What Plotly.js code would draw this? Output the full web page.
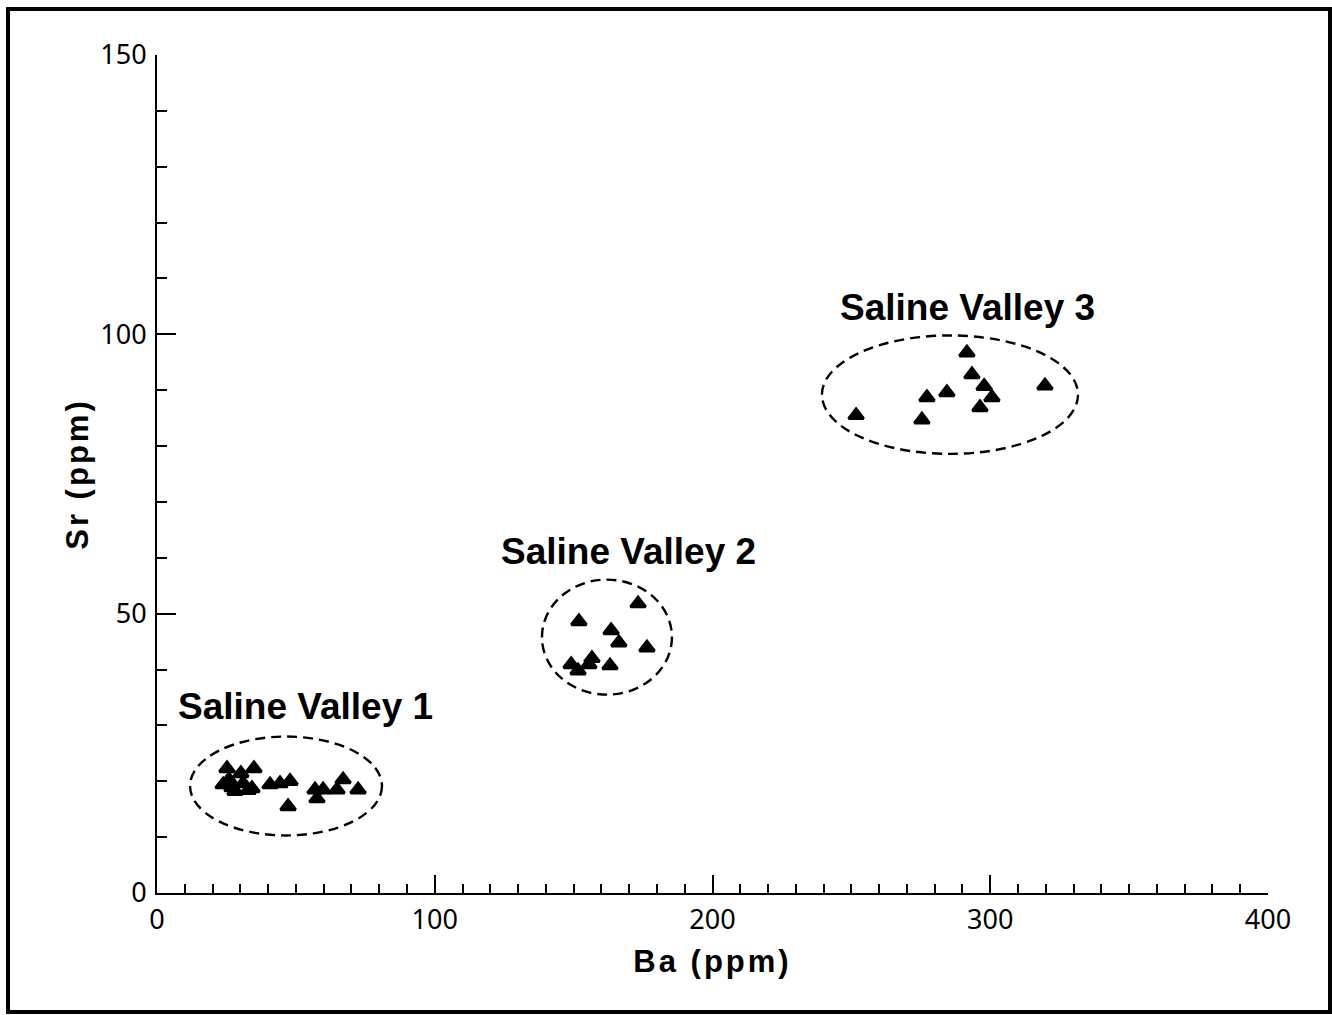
<!DOCTYPE html>
<html>
<head>
<meta charset="utf-8">
<script src="https://cdn.plot.ly/plotly-3.0.1.min.js"></script>
<style>
  html, body { margin: 0; padding: 0; background: #fff; }
  #chart { width: 1332px; height: 1015px; }
  .xtitle, .ytitle { letter-spacing: 3px; }
</style>
</head>
<body>
<div id="chart"></div>
<script>
// ---- Data ----
const groupNames = ["Saline Valley 1", "Saline Valley 2", "Saline Valley 3"];

const ba1 = [25.2, 34.9, 30.2, 25.9, 23.8, 28.1, 31.0, 34.2, 27.0, 32.8, 40.7, 44.3, 47.9, 47.2, 56.9, 59.8, 57.6, 67.0, 64.8, 72.4];
const sr1 = [22.3, 22.3, 21.4, 20.3, 19.4, 18.2, 19.6, 18.7, 18.9, 18.4, 19.4, 19.6, 20.0, 15.5, 18.5, 18.5, 16.9, 20.3, 18.5, 18.5];

const ba2 = [173.2, 151.9, 163.5, 166.3, 176.4, 156.6, 149.1, 151.6, 155.5, 163.1];
const sr2 = [51.8, 48.6, 47.0, 44.8, 43.9, 42.0, 40.9, 39.8, 40.9, 40.7];

const ba3 = [291.6, 293.4, 297.8, 300.6, 296.3, 319.7, 284.4, 277.2, 275.4, 251.7];
const sr3 = [96.7, 92.8, 90.7, 88.7, 86.9, 90.8, 89.6, 88.7, 84.7, 85.5];

// Dashed ellipse extents around each group [min, max] in data units
const ellipseBa = [[11.9, 81.0], [138.6, 185.4], [239.4, 331.6]];
const ellipseSr = [[10.3, 28.0], [35.5, 56.1], [78.6, 99.8]];

// Group label anchor positions in data units
const labelBa = [53.3, 169.6, 291.8];
const labelSr = [33.4, 61.2, 104.8];

const xTickVals = [0, 100, 200, 300, 400];
const yTickVals = [0, 50, 100, 150];

// ---- Chart ----
const markerStyle = { symbol: "triangle-up", size: 13, color: "#000", line: { color: "#000", width: 3 } };

const traces = [[ba1, sr1], [ba2, sr2], [ba3, sr3]].map((d, i) => ({
  type: "scatter",
  mode: "markers",
  name: groupNames[i],
  x: d[0],
  y: d[1],
  marker: markerStyle,
  hoverinfo: "skip"
}));

const tickFont = { family: "'Noto Sans', 'DejaVu Sans Condensed', sans-serif", size: 27, color: "#000" };
const titleFont = { family: "'Liberation Sans', Arial, sans-serif", size: 31, color: "#000", weight: "bold" };

const shapes = ellipseBa.map((bx, i) => ({
  type: "circle",
  xref: "x", yref: "y",
  x0: bx[0], x1: bx[1],
  y0: ellipseSr[i][0], y1: ellipseSr[i][1],
  line: { color: "#000", width: 2.4, dash: "10px,6px" }
}));

// outer frame
shapes.push({
  type: "rect", xref: "paper", yref: "paper",
  x0: -0.1341, x1: 1.0558, y0: -0.1420, y1: 1.0549,
  line: { color: "#000", width: 4 }, fillcolor: "rgba(0,0,0,0)"
});

const annotations = groupNames.map((t, i) => ({
  text: t,
  x: labelBa[i], y: labelSr[i],
  xref: "x", yref: "y",
  showarrow: false,
  xanchor: "center", yanchor: "middle",
  font: { family: "'Liberation Sans', Arial, sans-serif", size: 37, color: "#000", weight: "bold" }
}));

const layout = {
  width: 1332,
  height: 1015,
  margin: { l: 157, r: 64, t: 55, b: 122 },
  paper_bgcolor: "#fff",
  plot_bgcolor: "#fff",
  showlegend: false,
  xaxis: {
    range: [0, 400],
    tickvals: xTickVals,
    ticktext: xTickVals.map(String),
    ticks: "inside",
    ticklen: 18,
    tickwidth: 2,
    tickcolor: "#000",
    minor: { dtick: 10, tick0: 0, ticks: "inside", ticklen: 9, tickwidth: 2, tickcolor: "#000", showgrid: false },
    showline: true, linecolor: "#000", linewidth: 2,
    showgrid: false, zeroline: false,
    tickfont: tickFont,
    ticklabelstandoff: 2,
    title: { text: "Ba (ppm)", font: titleFont, standoff: 14 },
    fixedrange: true
  },
  yaxis: {
    range: [0, 150],
    tickvals: yTickVals,
    ticktext: yTickVals.map(String),
    ticks: "inside",
    ticklen: 19,
    tickwidth: 2,
    tickcolor: "#000",
    minor: { dtick: 10, tick0: 0, ticks: "inside", ticklen: 10, tickwidth: 2, tickcolor: "#000", showgrid: false },
    showline: true, linecolor: "#000", linewidth: 2,
    showgrid: false, zeroline: false,
    tickfont: tickFont,
    ticklabelstandoff: 3,
    title: { text: "Sr (ppm)", font: titleFont, standoff: 2 },
    fixedrange: true
  },
  shapes: shapes,
  annotations: annotations
};

Plotly.newPlot("chart", traces, layout, { staticPlot: true, displayModeBar: false });
</script>
</body>
</html>
